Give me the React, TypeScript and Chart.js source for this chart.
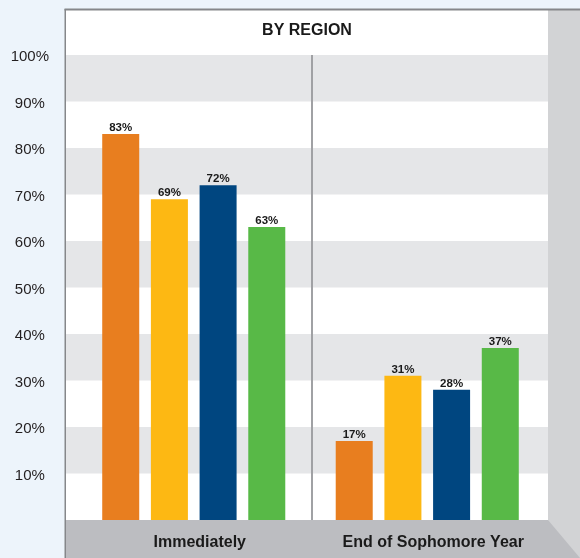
import React, { useEffect, useRef } from 'react';
import { Chart, registerables } from 'chart.js';

Chart.register(...registerables);

const categories = ['Immediately', 'End of Sophomore Year'];
const seriesNames = ['Region 1', 'Region 2', 'Region 3', 'Region 4'];
const region1 = [83, 17];
const region2 = [69, 31];
const region3 = [72, 28];
const region4 = [63, 37];
const seriesColors = ['#e87e1f', '#fdb813', '#004680', '#58b947'];
const yMin = 0;
const yMax = 100;
const yStep = 10;
const chartTitle = 'BY REGION';

const FONT = '"Liberation Sans", Arial, Helvetica, sans-serif';

const decorPlugin = {
  id: 'decor',
  beforeDraw(chart: any) {
    const { ctx, chartArea: a, width, height } = chart;
    const ys = chart.scales.y;
    const xs = chart.scales.x;
    const pl = a.left - 11;
    const pr = a.right + 4;
    const pt = 9;
    ctx.save();
    ctx.fillStyle = '#edf4fb';
    ctx.fillRect(0, 0, width, height);
    ctx.fillStyle = '#d2d3d5';
    ctx.fillRect(pr, pt, width - pr, height - pt);
    ctx.fillStyle = '#ffffff';
    ctx.fillRect(pl, pt, pr - pl, a.bottom - pt);
    ctx.fillStyle = '#e5e6e8';
    for (let v = yMin + yStep; v < yMax; v += 2 * yStep) {
      const y1 = ys.getPixelForValue(v + yStep);
      const y2 = ys.getPixelForValue(v);
      ctx.fillRect(pl, y1, pr - pl, y2 - y1);
    }
    ctx.fillStyle = '#bcbdc1';
    ctx.beginPath();
    ctx.moveTo(pl, a.bottom);
    ctx.lineTo(pr, a.bottom);
    ctx.lineTo(width, height);
    ctx.lineTo(pl, height);
    ctx.closePath();
    ctx.fill();
    // borders
    ctx.strokeStyle = '#86878a';
    ctx.lineWidth = 2;
    ctx.beginPath();
    ctx.moveTo(pl - 1.5, pt + 0.5);
    ctx.lineTo(width, pt + 0.5);
    ctx.stroke();
    ctx.lineWidth = 1.5;
    ctx.beginPath();
    ctx.moveTo(pl - 0.75, pt);
    ctx.lineTo(pl - 0.75, height);
    ctx.stroke();
    // divider
    const xd = (xs.getPixelForValue(0) + xs.getPixelForValue(1)) / 2;
    const yTop = ys.getPixelForValue(yMax);
    ctx.fillStyle = '#a0a1a4';
    ctx.fillRect(Math.round(xd), yTop, 2, a.bottom - yTop);
    // title
    ctx.fillStyle = '#1a1a1a';
    ctx.font = `bold 16px ${FONT}`;
    ctx.textAlign = 'center';
    ctx.textBaseline = 'middle';
    ctx.fillText(chartTitle, (pl + pr) / 2, 31);
    ctx.restore();
  },
  afterDatasetsDraw(chart: any) {
    const { ctx } = chart;
    ctx.save();
    ctx.fillStyle = '#1a1a1a';
    ctx.font = `bold 11.5px ${FONT}`;
    ctx.textAlign = 'center';
    ctx.textBaseline = 'alphabetic';
    chart.data.datasets.forEach((ds: any, i: number) => {
      const meta = chart.getDatasetMeta(i);
      meta.data.forEach((bar: any, j: number) => {
        ctx.fillText(`${ds.data[j]}%`, bar.x, bar.y - 3);
      });
    });
    ctx.restore();
  },
};

export default function App() {
  const ref = useRef<HTMLCanvasElement>(null);
  useEffect(() => {
    if (!ref.current) return;
    const series = [region1, region2, region3, region4];
    const chart = new Chart(ref.current, {
      type: 'bar',
      data: {
        labels: categories,
        datasets: series.map((d, i) => ({
          label: seriesNames[i],
          data: d,
          backgroundColor: seriesColors[i],
          borderWidth: 0,
          categoryPercentage: 0.834,
          barPercentage: 0.76,
        })),
      },
      options: {
        animation: false,
        responsive: false,
        maintainAspectRatio: false,
        devicePixelRatio: 1,
        layout: { padding: { top: 55, right: 36, bottom: 0, left: 0 } },
        plugins: {
          legend: { display: false },
          tooltip: { enabled: false },
          title: { display: false },
        },
        scales: {
          x: {
            grid: { display: false },
            border: { display: false },
            ticks: {
              color: '#1a1a1a',
              font: { family: FONT, size: 16, weight: 'bold' },
              padding: 5,
              labelOffset: 6,
              maxRotation: 0,
              autoSkip: false,
            },
            afterFit(scale: any) {
              scale.height = 38;
            },
          },
          y: {
            min: yMin,
            max: yMax,
            grid: { display: false },
            border: { display: false },
            ticks: {
              stepSize: yStep,
              color: '#231f20',
              font: { family: FONT, size: 15 },
              crossAlign: 'center',
              padding: 20,
              labelOffset: 2,
              callback: (v: any) => (v === 0 ? '' : `${v}%`),
            },
            afterFit(scale: any) {
              scale.width = 77;
            },
          },
        },
      },
      plugins: [decorPlugin],
    });
    return () => chart.destroy();
  }, []);
  return (
    <div style={{ position: 'absolute', left: 0, top: 0, width: 580, height: 558 }}>
      <canvas ref={ref} width={580} height={558} />
    </div>
  );
}
